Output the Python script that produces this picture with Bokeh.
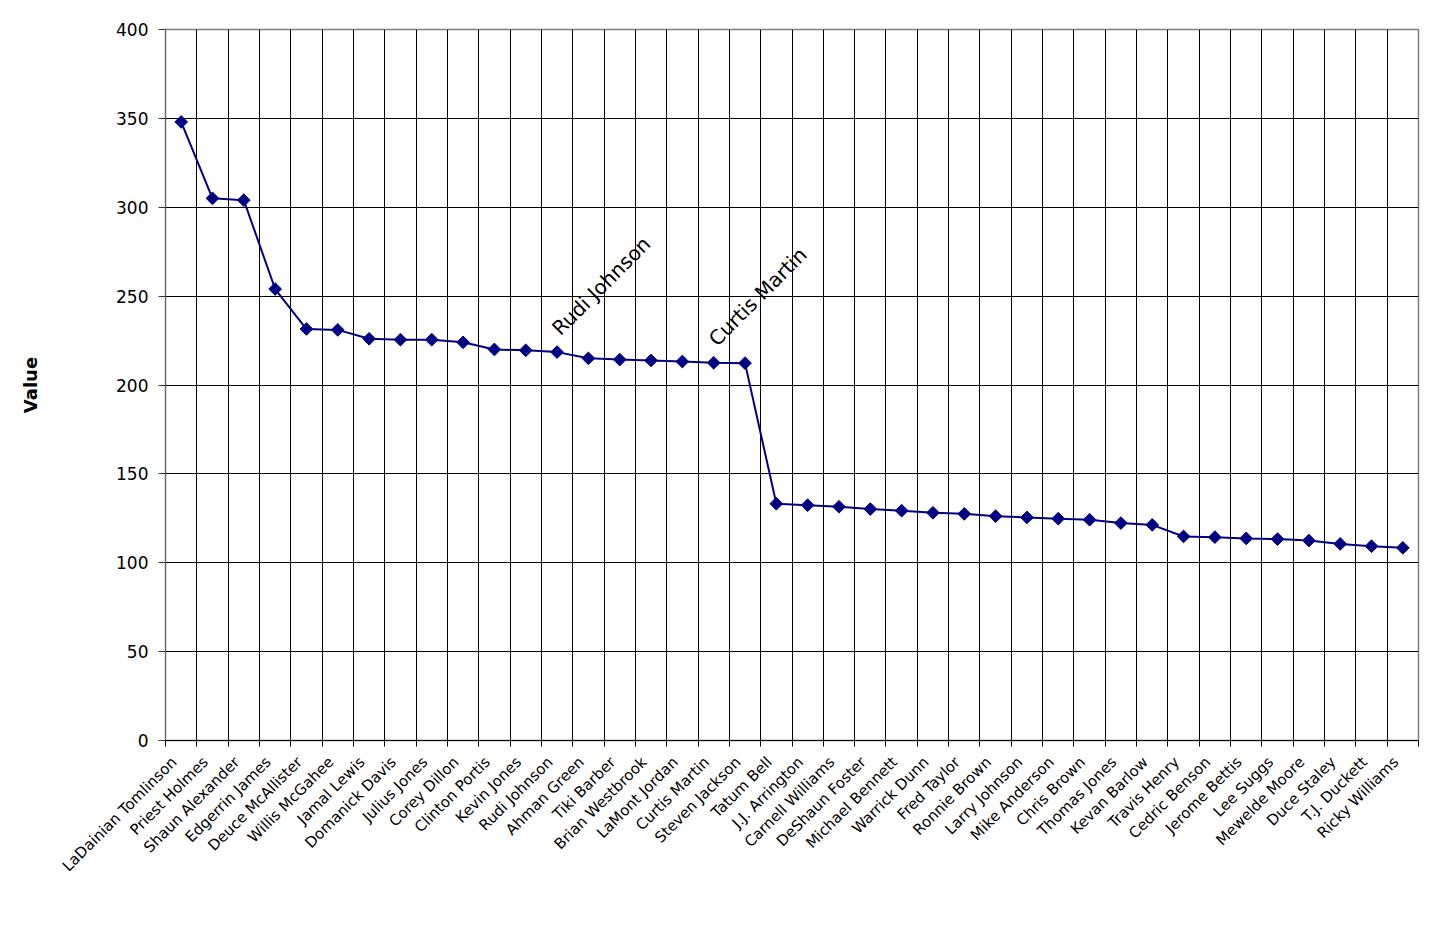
import math
from bokeh.plotting import figure
from bokeh.models import FixedTicker, Range1d, Grid, ColumnDataSource
from bokeh.core.properties import value
from bokeh.embed import file_html
from bokeh.resources import INLINE

players = [
    "LaDainian Tomlinson", "Priest Holmes", "Shaun Alexander", "Edgerrin James",
    "Deuce McAllister", "Willis McGahee", "Jamal Lewis", "Domanick Davis",
    "Julius Jones", "Corey Dillon", "Clinton Portis", "Kevin Jones",
    "Rudi Johnson", "Ahman Green", "Tiki Barber", "Brian Westbrook",
    "LaMont Jordan", "Curtis Martin", "Steven Jackson", "Tatum Bell",
    "J.J. Arrington", "Carnell Williams", "DeShaun Foster", "Michael Bennett",
    "Warrick Dunn", "Fred Taylor", "Ronnie Brown", "Larry Johnson",
    "Mike Anderson", "Chris Brown", "Thomas Jones", "Kevan Barlow",
    "Travis Henry", "Cedric Benson", "Jerome Bettis", "Lee Suggs",
    "Mewelde Moore", "Duce Staley", "T.J. Duckett", "Ricky Williams",
]
values_ = [
    348, 305, 304, 254,
    231.5, 231, 226, 225.5,
    225.5, 224, 220, 219.5,
    218.5, 215, 214.3, 213.8,
    213.2, 212.5, 212.3, 133.2,
    132.4, 131.5, 130.2, 129.3,
    128.1, 127.5, 126.2, 125.5,
    124.8, 124.2, 122.3, 121.3,
    114.8, 114.4, 113.7, 113.3,
    112.5, 110.6, 109.3, 108.4,
]
annotated = ["Rudi Johnson", "Curtis Martin"]
y_ticks = [0, 50, 100, 150, 200, 250, 300, 350, 400]

FONT = "DejaVu Sans"
NAVY = "#000080"
LABEL_SHIFT = 0.22  # rotated labels end slightly left of the category centre
n = len(players)
xs = [i + 0.5 for i in range(n)]
label_pos = [x - LABEL_SHIFT for x in xs]
bounds = list(range(n + 1))

p = figure(
    width=1435, height=913, output_backend="svg", toolbar_location=None,
    x_range=Range1d(0, n), y_range=Range1d(0, 400),
    min_border_left=165, min_border_right=17, min_border_top=29, min_border_bottom=173,
)
p.background_fill_color = "white"
p.border_fill_color = "white"
p.outline_line_color = "#808080"
p.outline_line_width = 1.5

# y axis
ya = p.yaxis[0]
ya.ticker = FixedTicker(ticks=y_ticks)
ya.major_tick_out = 7
ya.major_tick_in = 0
ya.minor_tick_line_color = None
ya.axis_line_color = "#666666"
ya.major_tick_line_color = "#333333"
ya.major_label_text_font = FONT
ya.major_label_text_font_size = "17px"
ya.major_label_text_color = "black"
ya.major_label_standoff = 10
ya.axis_label = "Value"
ya.axis_label_text_font = FONT
ya.axis_label_text_font_size = "18px"
ya.axis_label_text_font_style = "bold"
ya.axis_label_text_color = "black"
ya.axis_label_standoff = 72
p.ygrid.ticker = FixedTicker(ticks=y_ticks)
p.ygrid.grid_line_color = "black"
p.ygrid.grid_line_width = 1

# x axis: labels near category centres, tick marks at category boundaries
xa = p.xaxis[0]
xa.ticker = FixedTicker(ticks=label_pos, minor_ticks=bounds)
xa.major_label_overrides = {x: name for x, name in zip(label_pos, players)}
xa.major_tick_line_color = None
xa.minor_tick_line_color = "black"
xa.minor_tick_out = 6
xa.minor_tick_in = 0
xa.axis_line_color = "black"
xa.major_label_orientation = math.pi / 4
xa.major_label_text_font = FONT
xa.major_label_text_font_size = "15px"
xa.major_label_text_color = "black"
xa.major_label_standoff = 13
p.xgrid.visible = False

xgrid = Grid(dimension=0, ticker=FixedTicker(ticks=bounds),
             grid_line_color="black", grid_line_width=1)
p.add_layout(xgrid)

src = ColumnDataSource(dict(x=xs, y=values_, name=players))
p.line("x", "y", source=src, line_color=NAVY, line_width=2)
p.scatter("x", "y", source=src, marker="square", angle=math.pi / 4, size=9,
          fill_color=NAVY, line_color=NAVY)

ann_x = [xs[players.index(a)] for a in annotated]
ann_y = [values_[players.index(a)] for a in annotated]
p.text(x=ann_x, y=ann_y, text=annotated, angle=math.pi / 4,
       text_font=value(FONT), text_font_size="20px", text_color="black",
       text_align="left", text_baseline="bottom", x_offset=7, y_offset=-12)

open("out.html", "w").write(file_html(p, INLINE))
